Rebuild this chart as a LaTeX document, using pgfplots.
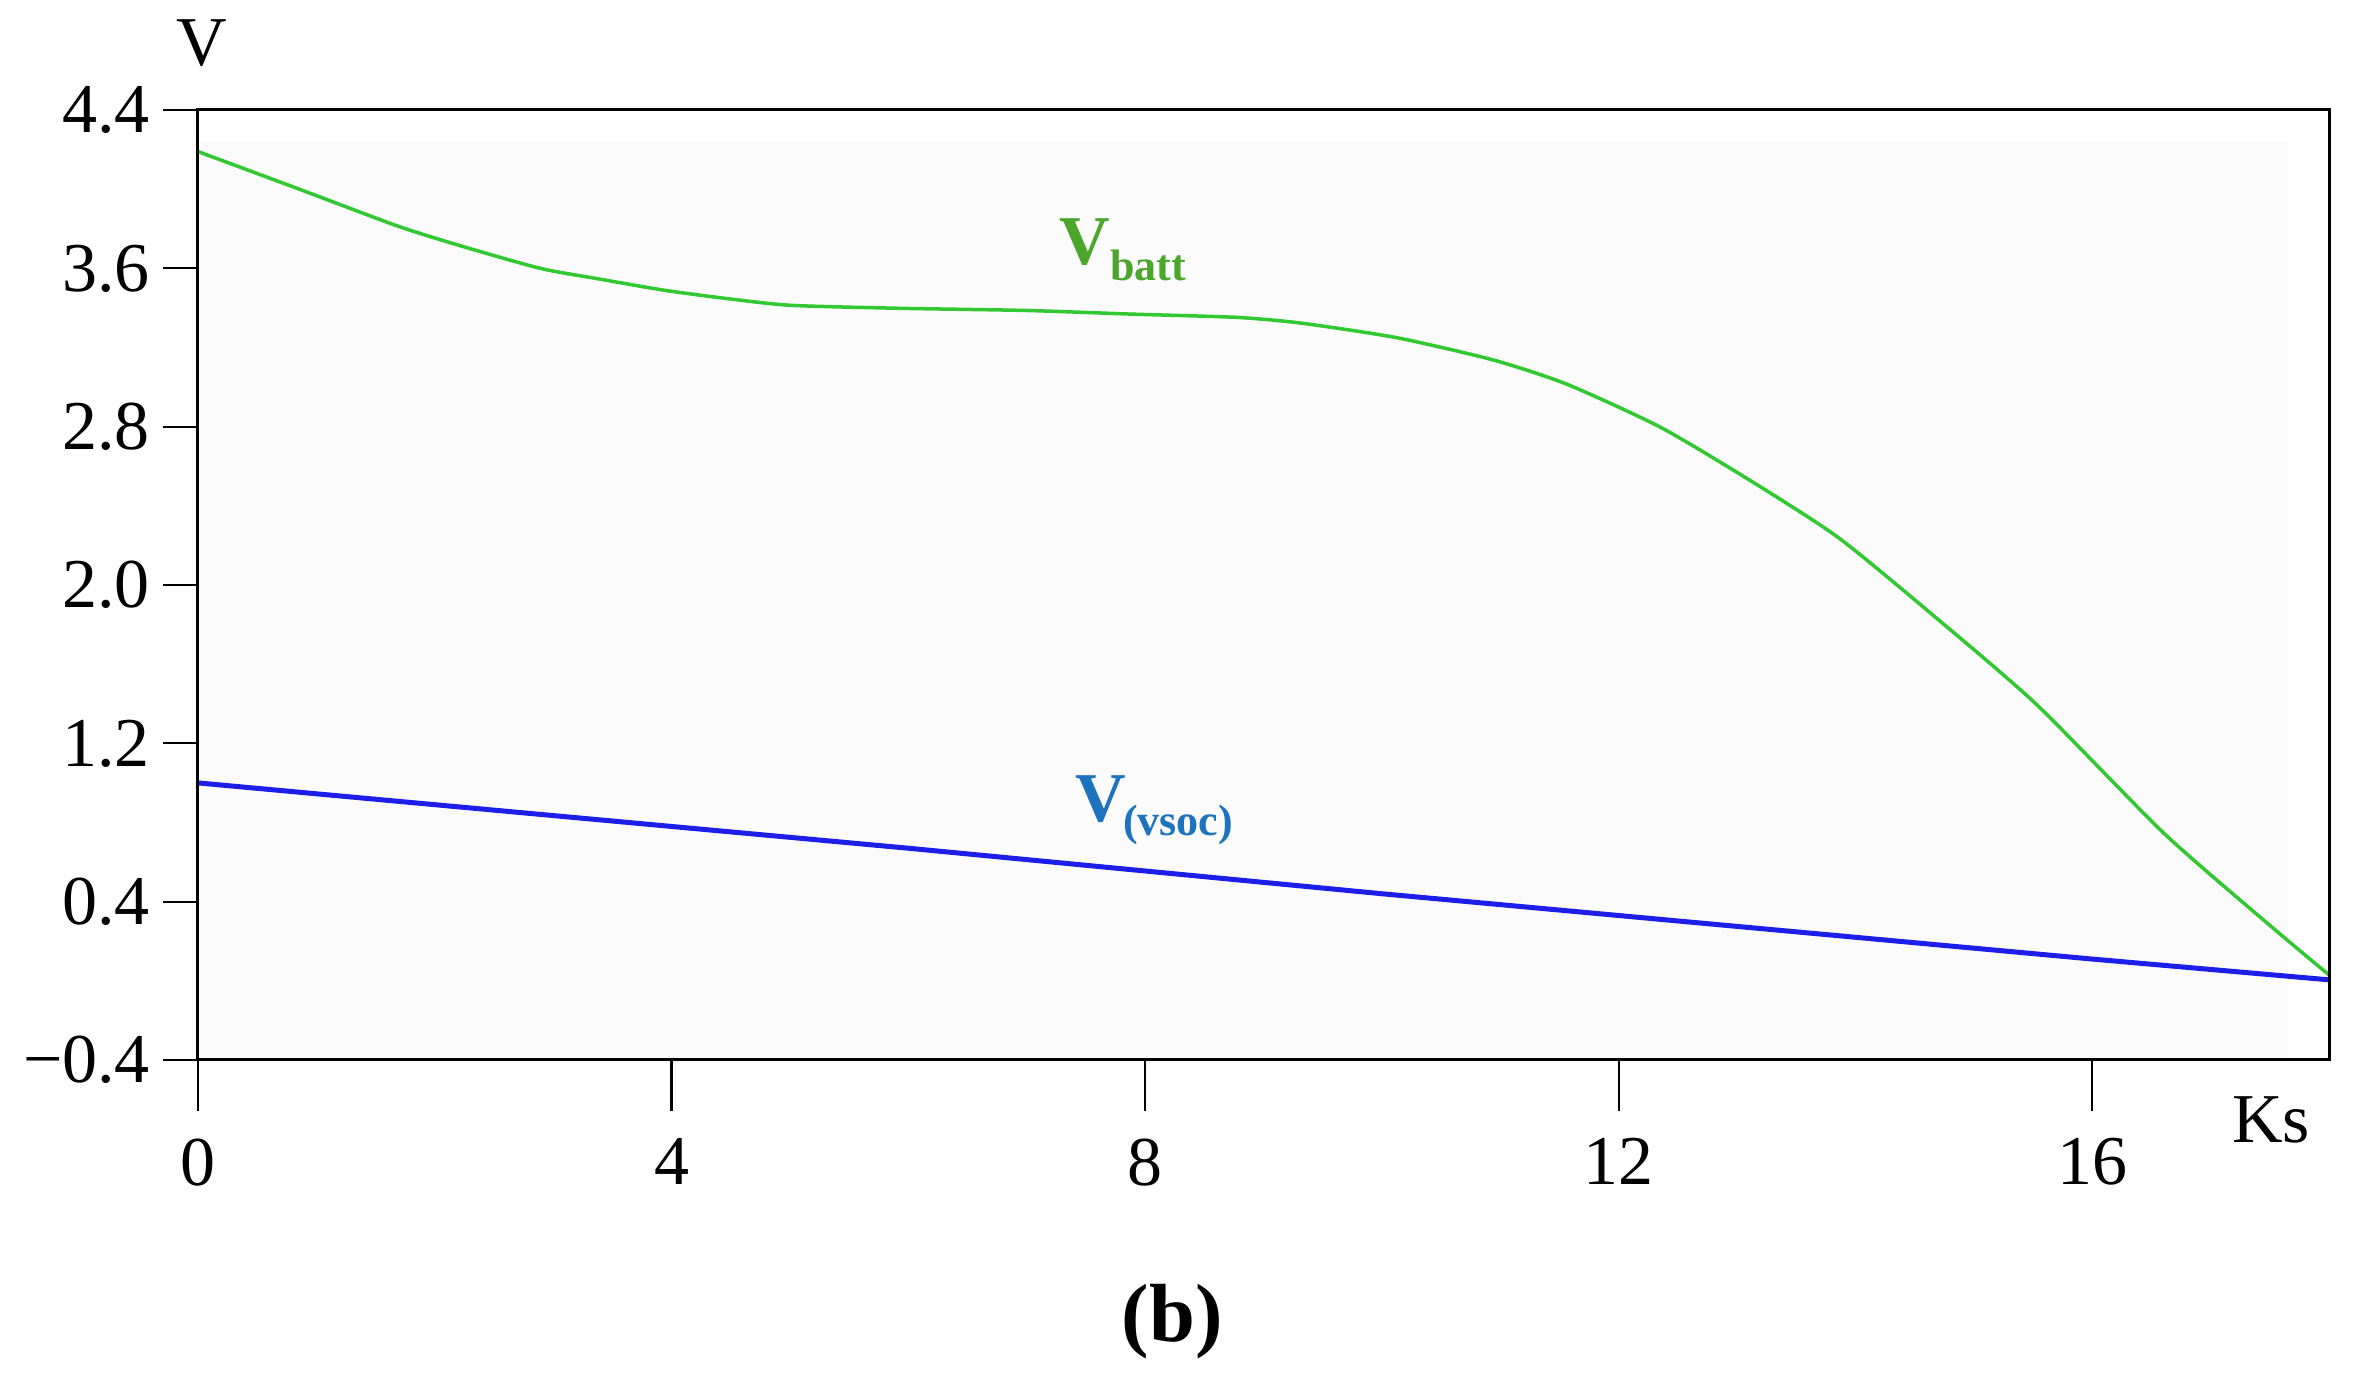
\documentclass[border=0pt]{standalone}
\usepackage{fontspec}
\setmainfont{Liberation Serif}
\usepackage{pgfplots}
\pgfplotsset{compat=1.18}
\definecolor{gline}{RGB}{50,200,50}
\definecolor{bline}{RGB}{30,30,235}
\definecolor{glab}{RGB}{76,166,44}
\definecolor{blab}{RGB}{30,115,190}
\definecolor{bgfill}{RGB}{251,251,251}
\pgfplotstableread{
x y
0 4.19
0.9 3.99
1.68 3.815
2.2 3.717
2.89 3.60
3.4 3.545
3.93 3.49
4.47 3.447
5.01 3.413
5.93 3.398
7.0 3.387
7.92 3.368
8.78 3.352
9.32 3.323
10.13 3.249
10.94 3.137
11.56 3.015
12.35 2.798
13.10 2.532
13.85 2.242
14.64 1.855
15.53 1.396
16.61 0.743
17.54 0.26
18 0.03
}\vbatt
\pgfplotstableread{
x y
0 1.0
2 0.89
4 0.78
6 0.67
8 0.555
10 0.44
12 0.33
14 0.22
16 0.11
18 0.005
}\vsoc
\begin{document}
\begin{tikzpicture}
\path[use as bounding box] (-39.6pt,-63.2pt) rectangle (434pt,212pt);
\begin{axis}[
  scale only axis, width=426.2pt, height=190pt,
  xmin=0, xmax=18, ymin=-0.4, ymax=4.4,
  xtick={0,4,8,12,16}, ytick={-0.4,0.4,1.2,2.0,2.8,3.6,4.4},
  xticklabels={0,4,8,12,16},
  yticklabels={−0.4,0.4,1.2,2.0,2.8,3.6,4.4},
  tick align=outside, tick pos=left,
  xtick style={/pgfplots/major tick length=10.2pt, line width=0.45pt, black},
  ytick style={/pgfplots/major tick length=7pt, line width=0.45pt, black},
  axis line style={line width=0.6pt},
  tick label style={font=\fontsize{14}{16}\selectfont},
  xticklabel style={yshift=-7.9pt},
  yticklabel style={xshift=-1.8pt},
  axis on top,
  clip=false,
]
\fill[bgfill] (axis cs:0,-0.4) rectangle (axis cs:17.65,4.24);
\addplot[gline, line width=0.7pt, line join=round, smooth, tension=0.4] table[x=x,y=y] {\vbatt};
\addplot[bline, line width=1.0pt, line join=round] table[x=x,y=y] {\vsoc};
\node[anchor=base west, inner sep=0, text=glab] at (axis cs:7.27,3.617)
  {\fontsize{14}{16}\selectfont\bfseries V\raisebox{-3.2pt}{\fontsize{8.8}{10}\selectfont batt}};
\node[anchor=base west, inner sep=0, text=blab] at (axis cs:7.40,0.807)
  {\fontsize{14}{16}\selectfont\bfseries V\kern-0.5pt\raisebox{-2.8pt}{\fontsize{8.8}{10}\selectfont (vsoc)}};
\node[anchor=base east, inner sep=0, xshift=-3.6pt, yshift=-16.6pt] at (rel axis cs:1,0)
  {\fontsize{14}{16}\selectfont Ks};
\node[anchor=base, inner sep=0, xshift=0.8pt, yshift=8.8pt] at (rel axis cs:0,1)
  {\fontsize{14}{16}\selectfont V};
\node[anchor=base, inner sep=0] at (axis cs:8.23,-1.82)
  {\fontsize{16.5}{19}\selectfont\bfseries (b)};
\end{axis}
\end{tikzpicture}
\end{document}
